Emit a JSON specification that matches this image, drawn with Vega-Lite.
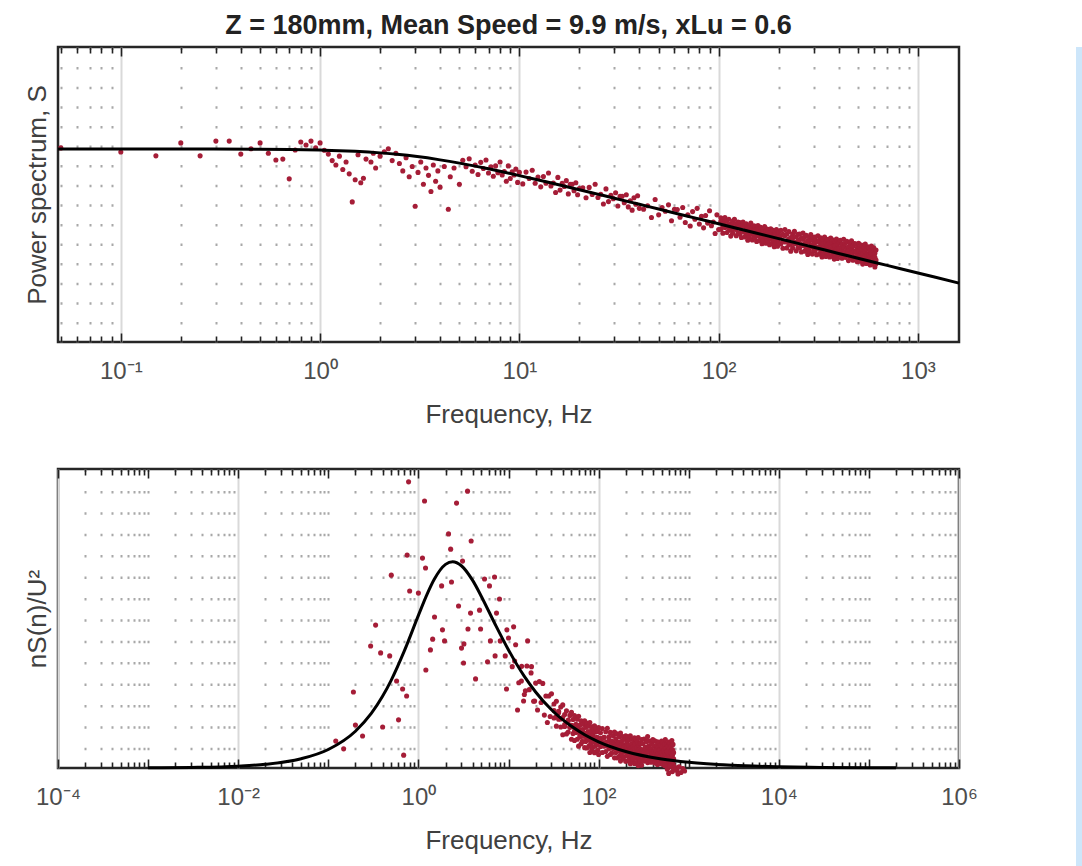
{
"$schema": "https://vega.github.io/schema/vega-lite/v6.json",
"padding": {"left": 22, "top": 10, "right": 0, "bottom": 0},
"background": "white",
"config": {
  "font": "Liberation Sans",
  "view": {"stroke": "#262626", "strokeWidth": 2.5},
  "axis": {"labelFont": "Liberation Sans", "titleFont": "Liberation Sans", "labelColor": "#4d4d4d", "titleColor": "#404040", "titleFontWeight": "normal", "domain": false}
},
"datasets": {
"top_pts": [
{"f":0.05,"S_dB":-4.2},{"f":0.1,"S_dB":-5.6},{"f":0.15,"S_dB":-6.9},{"f":0.2,"S_dB":-2.5},{"f":0.25,"S_dB":-6.9},{"f":0.3,"S_dB":-1.9},{"f":0.35,"S_dB":-1.9},{"f":0.4,"S_dB":-6.3},{"f":0.45,"S_dB":-4.5},{"f":0.5,"S_dB":-2.5},
{"f":0.55,"S_dB":-6.0},{"f":0.6,"S_dB":-8.3},{"f":0.65,"S_dB":-8.0},{"f":0.7,"S_dB":-14.7},{"f":0.75,"S_dB":-4.9},{"f":0.8,"S_dB":-2.2},{"f":0.85,"S_dB":-3.2},{"f":0.9,"S_dB":-1.9},{"f":0.95,"S_dB":-4.2},{"f":1.0,"S_dB":-2.5},
{"f":1.05,"S_dB":-5.0},{"f":1.1,"S_dB":-6.3},{"f":1.15,"S_dB":-8.5},{"f":1.2,"S_dB":-10.0},{"f":1.25,"S_dB":-7.0},{"f":1.3,"S_dB":-11.5},{"f":1.35,"S_dB":-9.0},{"f":1.4,"S_dB":-13.0},{"f":1.45,"S_dB":-22.5},{"f":1.5,"S_dB":-15.0},
{"f":1.55,"S_dB":-6.5},{"f":1.6,"S_dB":-16.0},{"f":1.65,"S_dB":-14.5},{"f":1.7,"S_dB":-8.0},{"f":1.8,"S_dB":-9.0},{"f":1.85,"S_dB":-6.0},{"f":1.9,"S_dB":-11.0},{"f":2.0,"S_dB":-7.0},{"f":2.1,"S_dB":-5.5},{"f":2.2,"S_dB":-4.5},
{"f":2.3,"S_dB":-8.5},{"f":2.4,"S_dB":-6.0},{"f":2.5,"S_dB":-9.5},{"f":2.6,"S_dB":-12.0},{"f":2.7,"S_dB":-7.5},{"f":2.8,"S_dB":-14.0},{"f":2.9,"S_dB":-10.5},{"f":3.0,"S_dB":-24.0},{"f":3.1,"S_dB":-12.5},{"f":3.2,"S_dB":-9.0},
{"f":3.3,"S_dB":-16.5},{"f":3.4,"S_dB":-11.0},{"f":3.5,"S_dB":-13.5},{"f":3.6,"S_dB":-19.0},{"f":3.7,"S_dB":-10.0},{"f":3.8,"S_dB":-15.5},{"f":3.9,"S_dB":-12.0},{"f":4.0,"S_dB":-17.5},{"f":4.2,"S_dB":-10.5},{"f":4.4,"S_dB":-25.0},
{"f":4.5,"S_dB":-14.0},{"f":4.7,"S_dB":-11.0},{"f":5.0,"S_dB":-16.5},
{"f":5.2,"S_dB":-8.4},{"f":5.4,"S_dB":-10.6},{"f":5.6,"S_dB":-7.9},{"f":5.8,"S_dB":-12.1},{"f":6.0,"S_dB":-10.0},{"f":6.2,"S_dB":-13.2},{"f":6.4,"S_dB":-9.1},{"f":6.6,"S_dB":-11.2},{"f":6.8,"S_dB":-8.3},{"f":7.0,"S_dB":-12.7},
{"f":7.2,"S_dB":-10.6},{"f":7.4,"S_dB":-13.8},{"f":7.6,"S_dB":-10.3},{"f":7.8,"S_dB":-12.6},{"f":8.0,"S_dB":-9.0},{"f":8.2,"S_dB":-13.4},{"f":8.4,"S_dB":-12.2},{"f":8.6,"S_dB":-15.5},{"f":8.8,"S_dB":-10.3},{"f":9.0,"S_dB":-14.6},
{"f":9.2,"S_dB":-12.3},{"f":9.4,"S_dB":-13.4},{"f":9.6,"S_dB":-11.4},{"f":9.8,"S_dB":-15.9},{"f":10.0,"S_dB":-12.5},
{"f":10.4,"S_dB":-16.4},{"f":10.8,"S_dB":-12.4},{"f":11.2,"S_dB":-14.6},{"f":11.6,"S_dB":-11.8},{"f":12.0,"S_dB":-16.2},{"f":12.4,"S_dB":-14.1},{"f":12.8,"S_dB":-17.4},{"f":13.2,"S_dB":-13.9},{"f":13.6,"S_dB":-16.2},{"f":14.0,"S_dB":-12.7},
{"f":14.4,"S_dB":-17.1},{"f":14.8,"S_dB":-16.1},{"f":15.2,"S_dB":-19.3},{"f":15.6,"S_dB":-14.2},{"f":16.0,"S_dB":-18.5},{"f":16.4,"S_dB":-16.2},{"f":16.8,"S_dB":-17.3},{"f":17.2,"S_dB":-15.3},{"f":17.6,"S_dB":-19.8},{"f":18.0,"S_dB":-16.5},
{"f":18.4,"S_dB":-16.5},{"f":18.8,"S_dB":-18.7},{"f":19.2,"S_dB":-16.0},{"f":19.6,"S_dB":-20.1},{"f":20.0,"S_dB":-18.0},
{"f":20.8,"S_dB":-17.7},{"f":21.6,"S_dB":-21.1},{"f":22.4,"S_dB":-17.6},{"f":23.2,"S_dB":-20.0},{"f":24.0,"S_dB":-16.5},{"f":24.8,"S_dB":-21.0},{"f":25.6,"S_dB":-19.9},{"f":26.4,"S_dB":-23.2},{"f":27.2,"S_dB":-18.1},{"f":28.0,"S_dB":-22.4},
{"f":28.8,"S_dB":-20.3},{"f":29.6,"S_dB":-21.4},{"f":30.4,"S_dB":-19.4},{"f":31.2,"S_dB":-23.9},{"f":32.0,"S_dB":-20.6},{"f":32.8,"S_dB":-20.6},{"f":33.6,"S_dB":-22.8},{"f":34.4,"S_dB":-20.1},{"f":35.2,"S_dB":-24.2},{"f":36.0,"S_dB":-22.1},
{"f":36.8,"S_dB":-25.3},{"f":37.6,"S_dB":-21.1},{"f":38.4,"S_dB":-23.3},{"f":39.2,"S_dB":-20.4},{"f":40.0,"S_dB":-24.7},
{"f":42,"S_dB":-25.0},{"f":44,"S_dB":-23.8},{"f":46,"S_dB":-27.8},{"f":48,"S_dB":-21.7},{"f":50,"S_dB":-26.9},{"f":52,"S_dB":-24.4},{"f":54,"S_dB":-25.7},{"f":56,"S_dB":-23.5},{"f":58,"S_dB":-28.9},{"f":60,"S_dB":-25.0},
{"f":62,"S_dB":-25.1},{"f":64,"S_dB":-27.7},{"f":66,"S_dB":-24.4},{"f":68,"S_dB":-29.5},{"f":70,"S_dB":-26.9},{"f":72,"S_dB":-30.7},{"f":74,"S_dB":-25.8},{"f":76,"S_dB":-28.4},{"f":78,"S_dB":-24.7},{"f":80,"S_dB":-30.0},
{"f":82,"S_dB":-27.4},{"f":84,"S_dB":-31.3},{"f":86,"S_dB":-27.1},{"f":88,"S_dB":-29.7},{"f":90,"S_dB":-25.5},{"f":92,"S_dB":-30.6},{"f":94,"S_dB":-29.3},{"f":96,"S_dB":-33.2},{"f":98,"S_dB":-26.9},{"f":100,"S_dB":-31.9},
{"f":102.5,"S_dB":-27.9},{"f":102.5,"S_dB":-29.2},{"f":102.5,"S_dB":-31.8},{"f":105,"S_dB":-29.0},{"f":105,"S_dB":-30.9},{"f":105,"S_dB":-33.1},{"f":107.5,"S_dB":-27.8},{"f":107.5,"S_dB":-29.2},{"f":107.5,"S_dB":-31.2},{"f":110,"S_dB":-28.9},{"f":110,"S_dB":-30.8},{"f":110,"S_dB":-32.9},
{"f":112.5,"S_dB":-28.4},{"f":112.5,"S_dB":-30.3},{"f":112.5,"S_dB":-32.1},{"f":115,"S_dB":-30.0},{"f":115,"S_dB":-31.9},{"f":115,"S_dB":-34.1},{"f":117.5,"S_dB":-29.1},{"f":117.5,"S_dB":-30.0},{"f":117.5,"S_dB":-33.1},{"f":120,"S_dB":-28.4},{"f":120,"S_dB":-31.3},{"f":120,"S_dB":-31.8},
{"f":122.5,"S_dB":-29.9},{"f":122.5,"S_dB":-31.8},{"f":122.5,"S_dB":-34.0},{"f":125,"S_dB":-29.3},{"f":125,"S_dB":-30.9},{"f":125,"S_dB":-33.0},{"f":127.5,"S_dB":-29.5},{"f":127.5,"S_dB":-30.8},{"f":127.5,"S_dB":-33.4},{"f":130,"S_dB":-30.5},{"f":130,"S_dB":-32.4},{"f":130,"S_dB":-34.6},
{"f":132.5,"S_dB":-29.3},{"f":132.5,"S_dB":-30.7},{"f":132.5,"S_dB":-32.7},{"f":135,"S_dB":-30.4},{"f":135,"S_dB":-32.3},{"f":135,"S_dB":-34.4},{"f":137.5,"S_dB":-29.9},{"f":137.5,"S_dB":-31.8},{"f":137.5,"S_dB":-33.6},{"f":140,"S_dB":-31.4},{"f":140,"S_dB":-33.3},{"f":140,"S_dB":-35.5},
{"f":142.5,"S_dB":-30.5},{"f":142.5,"S_dB":-31.4},{"f":142.5,"S_dB":-34.5},{"f":145,"S_dB":-29.7},{"f":145,"S_dB":-32.6},{"f":145,"S_dB":-33.1},{"f":147.5,"S_dB":-31.3},{"f":147.5,"S_dB":-33.2},{"f":147.5,"S_dB":-35.4},{"f":150,"S_dB":-30.6},{"f":150,"S_dB":-32.2},{"f":150,"S_dB":-34.3},
{"f":152.5,"S_dB":-30.8},{"f":152.5,"S_dB":-32.1},{"f":152.5,"S_dB":-34.7},{"f":155,"S_dB":-31.8},{"f":155,"S_dB":-33.7},{"f":155,"S_dB":-35.9},{"f":157.5,"S_dB":-30.5},{"f":157.5,"S_dB":-31.9},{"f":157.5,"S_dB":-33.9},{"f":160,"S_dB":-31.7},{"f":160,"S_dB":-33.6},{"f":160,"S_dB":-35.7},
{"f":162.5,"S_dB":-31.1},{"f":162.5,"S_dB":-33.0},{"f":162.5,"S_dB":-34.8},{"f":165,"S_dB":-32.6},{"f":165,"S_dB":-34.5},{"f":165,"S_dB":-36.7},{"f":167.5,"S_dB":-31.7},{"f":167.5,"S_dB":-32.6},{"f":167.5,"S_dB":-35.7},{"f":170,"S_dB":-30.9},{"f":170,"S_dB":-33.8},{"f":170,"S_dB":-34.3},
{"f":172.5,"S_dB":-32.4},{"f":172.5,"S_dB":-34.3},{"f":172.5,"S_dB":-36.5},{"f":175,"S_dB":-31.7},{"f":175,"S_dB":-33.3},{"f":175,"S_dB":-35.4},{"f":177.5,"S_dB":-31.9},{"f":177.5,"S_dB":-33.2},{"f":177.5,"S_dB":-35.8},{"f":180,"S_dB":-32.9},{"f":180,"S_dB":-34.8},{"f":180,"S_dB":-37.0},
{"f":182.5,"S_dB":-31.6},{"f":182.5,"S_dB":-33.0},{"f":182.5,"S_dB":-35.0},{"f":185,"S_dB":-32.7},{"f":185,"S_dB":-34.6},{"f":185,"S_dB":-36.7},{"f":187.5,"S_dB":-32.1},{"f":187.5,"S_dB":-34.0},{"f":187.5,"S_dB":-35.8},{"f":190,"S_dB":-33.6},{"f":190,"S_dB":-35.5},{"f":190,"S_dB":-37.7},
{"f":192.5,"S_dB":-32.7},{"f":192.5,"S_dB":-33.6},{"f":192.5,"S_dB":-36.7},{"f":195,"S_dB":-31.9},{"f":195,"S_dB":-34.8},{"f":195,"S_dB":-35.3},{"f":197.5,"S_dB":-33.4},{"f":197.5,"S_dB":-35.3},{"f":197.5,"S_dB":-37.5},{"f":200,"S_dB":-32.7},{"f":200,"S_dB":-34.3},{"f":200,"S_dB":-36.4},
{"f":205,"S_dB":-32.1},{"f":205,"S_dB":-34.0},{"f":205,"S_dB":-36.8},{"f":210,"S_dB":-33.5},{"f":210,"S_dB":-35.7},{"f":210,"S_dB":-38.2},{"f":215,"S_dB":-31.9},{"f":215,"S_dB":-34.0},{"f":215,"S_dB":-36.1},{"f":220,"S_dB":-33.4},{"f":220,"S_dB":-35.7},{"f":220,"S_dB":-38.1},
{"f":225,"S_dB":-32.6},{"f":225,"S_dB":-35.1},{"f":225,"S_dB":-37.0},{"f":230,"S_dB":-34.6},{"f":230,"S_dB":-36.7},{"f":230,"S_dB":-39.2},{"f":235,"S_dB":-33.4},{"f":235,"S_dB":-34.8},{"f":235,"S_dB":-38.1},{"f":240,"S_dB":-32.5},{"f":240,"S_dB":-36.1},{"f":240,"S_dB":-36.6},
{"f":245,"S_dB":-34.3},{"f":245,"S_dB":-36.6},{"f":245,"S_dB":-39.1},{"f":250,"S_dB":-33.5},{"f":250,"S_dB":-35.7},{"f":250,"S_dB":-38.0},{"f":255,"S_dB":-33.4},{"f":255,"S_dB":-35.3},{"f":255,"S_dB":-38.1},{"f":260,"S_dB":-34.8},{"f":260,"S_dB":-37.0},{"f":260,"S_dB":-39.5},
{"f":265,"S_dB":-33.1},{"f":265,"S_dB":-35.2},{"f":265,"S_dB":-37.3},{"f":270,"S_dB":-34.5},{"f":270,"S_dB":-36.8},{"f":270,"S_dB":-39.2},{"f":275,"S_dB":-33.8},{"f":275,"S_dB":-36.3},{"f":275,"S_dB":-38.2},{"f":280,"S_dB":-35.7},{"f":280,"S_dB":-37.8},{"f":280,"S_dB":-40.3},
{"f":285,"S_dB":-34.5},{"f":285,"S_dB":-35.9},{"f":285,"S_dB":-39.2},{"f":290,"S_dB":-33.6},{"f":290,"S_dB":-37.2},{"f":290,"S_dB":-37.7},{"f":295,"S_dB":-35.4},{"f":295,"S_dB":-37.7},{"f":295,"S_dB":-40.2},{"f":300,"S_dB":-34.5},{"f":300,"S_dB":-36.7},{"f":300,"S_dB":-39.0},
{"f":305,"S_dB":-34.4},{"f":305,"S_dB":-36.3},{"f":305,"S_dB":-39.1},{"f":310,"S_dB":-35.7},{"f":310,"S_dB":-37.9},{"f":310,"S_dB":-40.4},{"f":315,"S_dB":-34.0},{"f":315,"S_dB":-36.1},{"f":315,"S_dB":-38.2},{"f":320,"S_dB":-35.5},{"f":320,"S_dB":-37.8},{"f":320,"S_dB":-40.2},
{"f":325,"S_dB":-34.7},{"f":325,"S_dB":-37.2},{"f":325,"S_dB":-39.1},{"f":330,"S_dB":-36.6},{"f":330,"S_dB":-38.7},{"f":330,"S_dB":-41.2},{"f":335,"S_dB":-35.4},{"f":335,"S_dB":-36.8},{"f":335,"S_dB":-40.1},{"f":340,"S_dB":-34.4},{"f":340,"S_dB":-38.0},{"f":340,"S_dB":-38.5},
{"f":345,"S_dB":-36.2},{"f":345,"S_dB":-38.5},{"f":345,"S_dB":-41.0},{"f":350,"S_dB":-35.3},{"f":350,"S_dB":-37.5},{"f":350,"S_dB":-39.8},{"f":355,"S_dB":-35.2},{"f":355,"S_dB":-37.1},{"f":355,"S_dB":-39.9},{"f":360,"S_dB":-36.5},{"f":360,"S_dB":-38.7},{"f":360,"S_dB":-41.2},
{"f":365,"S_dB":-34.8},{"f":365,"S_dB":-36.9},{"f":365,"S_dB":-39.0},{"f":370,"S_dB":-36.2},{"f":370,"S_dB":-38.5},{"f":370,"S_dB":-40.9},{"f":375,"S_dB":-35.4},{"f":375,"S_dB":-37.9},{"f":375,"S_dB":-39.8},{"f":380,"S_dB":-37.3},{"f":380,"S_dB":-39.4},{"f":380,"S_dB":-41.9},
{"f":385,"S_dB":-36.1},{"f":385,"S_dB":-37.5},{"f":385,"S_dB":-40.8},{"f":390,"S_dB":-35.1},{"f":390,"S_dB":-38.7},{"f":390,"S_dB":-39.2},{"f":395,"S_dB":-36.9},{"f":395,"S_dB":-39.2},{"f":395,"S_dB":-41.7},{"f":400,"S_dB":-36.0},{"f":400,"S_dB":-38.2},{"f":400,"S_dB":-40.5},
{"f":408,"S_dB":-35.5},{"f":408,"S_dB":-38.1},{"f":408,"S_dB":-40.2},{"f":416,"S_dB":-36.9},{"f":416,"S_dB":-38.9},{"f":416,"S_dB":-41.6},{"f":424,"S_dB":-35.2},{"f":424,"S_dB":-37.8},{"f":424,"S_dB":-39.4},
{"f":432,"S_dB":-36.6},{"f":432,"S_dB":-39.4},{"f":432,"S_dB":-41.3},{"f":440,"S_dB":-35.9},{"f":440,"S_dB":-38.4},{"f":440,"S_dB":-40.3},{"f":448,"S_dB":-37.8},{"f":448,"S_dB":-39.1},{"f":448,"S_dB":-42.4},
{"f":456,"S_dB":-36.6},{"f":456,"S_dB":-40.0},{"f":456,"S_dB":-41.3},{"f":464,"S_dB":-35.7},{"f":464,"S_dB":-38.3},{"f":464,"S_dB":-39.8},{"f":472,"S_dB":-37.5},{"f":472,"S_dB":-39.7},{"f":472,"S_dB":-42.3},
{"f":480,"S_dB":-36.6},{"f":480,"S_dB":-39.2},{"f":480,"S_dB":-41.1},{"f":488,"S_dB":-36.8},{"f":488,"S_dB":-39.4},{"f":488,"S_dB":-41.5},{"f":496,"S_dB":-38.1},{"f":496,"S_dB":-40.1},{"f":496,"S_dB":-42.8},
{"f":504,"S_dB":-36.5},{"f":504,"S_dB":-39.1},{"f":504,"S_dB":-40.7},{"f":512,"S_dB":-37.9},{"f":512,"S_dB":-40.7},{"f":512,"S_dB":-42.6},{"f":520,"S_dB":-37.1},{"f":520,"S_dB":-39.6},{"f":520,"S_dB":-41.5},
{"f":528,"S_dB":-39.0},{"f":528,"S_dB":-40.3},{"f":528,"S_dB":-43.6},{"f":536,"S_dB":-37.8},{"f":536,"S_dB":-41.2},{"f":536,"S_dB":-42.5},{"f":544,"S_dB":-36.8},{"f":544,"S_dB":-39.4},{"f":544,"S_dB":-40.9},
{"f":552,"S_dB":-38.6},{"f":552,"S_dB":-40.8},{"f":552,"S_dB":-43.4},{"f":560,"S_dB":-37.7},{"f":560,"S_dB":-40.3},{"f":560,"S_dB":-42.2},{"f":568,"S_dB":-37.9},{"f":568,"S_dB":-40.5},{"f":568,"S_dB":-42.6},
{"f":576,"S_dB":-39.2},{"f":576,"S_dB":-41.2},{"f":576,"S_dB":-43.9},{"f":584,"S_dB":-37.5},{"f":584,"S_dB":-40.1},{"f":584,"S_dB":-41.7},{"f":592,"S_dB":-38.9},{"f":592,"S_dB":-41.7},{"f":592,"S_dB":-43.6},
{"f":600,"S_dB":-38.1},{"f":600,"S_dB":-40.6},{"f":600,"S_dB":-42.5},{"f":608,"S_dB":-40.0},{"f":608,"S_dB":-41.3},{"f":608,"S_dB":-44.6},{"f":616,"S_dB":-38.8},{"f":616,"S_dB":-42.2},{"f":616,"S_dB":-43.5}
],
"top_fit": [
{"f":0.0484,"S_dB":-4.56},{"f":0.1,"S_dB":-4.56},{"f":0.2,"S_dB":-4.57},{"f":0.5,"S_dB":-4.66},{"f":0.7,"S_dB":-4.75},{"f":1,"S_dB":-4.94},{"f":1.25,"S_dB":-5.14},{"f":1.5,"S_dB":-5.37},{"f":2,"S_dB":-5.89},{"f":2.5,"S_dB":-6.47},
{"f":3,"S_dB":-7.07},{"f":4,"S_dB":-8.26},{"f":5,"S_dB":-9.37},{"f":6,"S_dB":-10.39},{"f":7,"S_dB":-11.30},{"f":8,"S_dB":-12.14},{"f":10,"S_dB":-13.59},{"f":12,"S_dB":-14.81},{"f":15,"S_dB":-16.35},{"f":20,"S_dB":-18.37},
{"f":25,"S_dB":-19.96},{"f":30,"S_dB":-21.26},{"f":40,"S_dB":-23.33},{"f":50,"S_dB":-24.94},{"f":60,"S_dB":-26.25},{"f":70,"S_dB":-27.37},{"f":80,"S_dB":-28.33},{"f":100,"S_dB":-29.94},{"f":120,"S_dB":-31.26},{"f":150,"S_dB":-32.88},
{"f":200,"S_dB":-34.96},{"f":250,"S_dB":-36.57},{"f":300,"S_dB":-37.89},{"f":400,"S_dB":-39.98},{"f":500,"S_dB":-41.59},{"f":700,"S_dB":-44.03},{"f":1000,"S_dB":-46.61},{"f":1607,"S_dB":-50.04}
],
"bot_pts": [
{"f":0.121,"nSU2":0.09},{"f":0.148,"nSU2":0.064},{"f":0.19,"nSU2":0.254},{"f":0.2,"nSU2":0.144},{"f":0.24,"nSU2":0.107},{"f":0.295,"nSU2":0.408},{"f":0.335,"nSU2":0.478},{"f":0.381,"nSU2":0.385},{"f":0.401,"nSU2":0.137},{"f":0.48,"nSU2":0.375},
{"f":0.5,"nSU2":0.645},{"f":0.573,"nSU2":0.291},{"f":0.602,"nSU2":0.161},{"f":0.668,"nSU2":0.264},{"f":0.686,"nSU2":0.043},{"f":0.74,"nSU2":0.241},{"f":0.75,"nSU2":0.712},{"f":0.778,"nSU2":0.957},{"f":0.8,"nSU2":0.592},{"f":1.0,"nSU2":0.585},
{"f":1.11,"nSU2":0.702},{"f":1.17,"nSU2":0.893},{"f":1.2,"nSU2":0.669},{"f":1.21,"nSU2":0.328},{"f":1.36,"nSU2":0.395},{"f":1.44,"nSU2":0.431},{"f":1.51,"nSU2":0.505},{"f":1.81,"nSU2":0.609},{"f":1.85,"nSU2":0.462},{"f":1.95,"nSU2":0.425},
{"f":2.16,"nSU2":0.783},{"f":2.28,"nSU2":0.732},{"f":2.33,"nSU2":0.622},{"f":2.65,"nSU2":0.886},{"f":2.79,"nSU2":0.542},{"f":3.01,"nSU2":0.401},{"f":3.09,"nSU2":0.692},{"f":3.17,"nSU2":0.351},{"f":3.2,"nSU2":0.415},{"f":3.51,"nSU2":0.926},
{"f":3.55,"nSU2":0.465},{"f":3.79,"nSU2":0.518},{"f":3.85,"nSU2":0.759},{"f":4.31,"nSU2":0.298},{"f":4.77,"nSU2":0.528},{"f":4.9,"nSU2":0.465},{"f":5.42,"nSU2":0.632},{"f":5.85,"nSU2":0.355},{"f":6.15,"nSU2":0.609},{"f":6.3,"nSU2":0.425},
{"f":7.0,"nSU2":0.639},{"f":7.1,"nSU2":0.375},{"f":7.36,"nSU2":0.518},{"f":7.94,"nSU2":0.565},{"f":8.1,"nSU2":0.425},{"f":9.2,"nSU2":0.375},{"f":9.5,"nSU2":0.264},{"f":9.6,"nSU2":0.462},{"f":11.4,"nSU2":0.472},{"f":11.7,"nSU2":0.358},
{"f":12.6,"nSU2":0.194},{"f":13.9,"nSU2":0.291},{"f":14.7,"nSU2":0.224},{"f":15.4,"nSU2":0.258},{"f":16.3,"nSU2":0.425},{"f":17.8,"nSU2":0.318},{"f":19.5,"nSU2":0.224},
{"f":10,"nSU2":0.435},{"f":11,"nSU2":0.339},{"f":12,"nSU2":0.412},{"f":13,"nSU2":0.285},{"f":14,"nSU2":0.340},{"f":15,"nSU2":0.246},{"f":16,"nSU2":0.341},{"f":17,"nSU2":0.262},{"f":18,"nSU2":0.339},{"f":19,"nSU2":0.223},
{"f":20,"nSU2":0.284},{"f":21,"nSU2":0.194},{"f":22,"nSU2":0.289},{"f":23,"nSU2":0.219},{"f":24,"nSU2":0.283},{"f":25,"nSU2":0.177},{"f":26,"nSU2":0.241},{"f":27,"nSU2":0.152},{"f":28,"nSU2":0.241},{"f":29,"nSU2":0.172},{"f":30,"nSU2":0.248},
{"f":32,"nSU2":0.214},{"f":32,"nSU2":0.192},{"f":32,"nSU2":0.167},{"f":34,"nSU2":0.223},{"f":34,"nSU2":0.172},{"f":34,"nSU2":0.140},{"f":36,"nSU2":0.190},{"f":36,"nSU2":0.185},{"f":36,"nSU2":0.163},{"f":38,"nSU2":0.204},{"f":38,"nSU2":0.164},{"f":38,"nSU2":0.137},
{"f":40,"nSU2":0.211},{"f":40,"nSU2":0.169},{"f":40,"nSU2":0.111},{"f":42,"nSU2":0.179},{"f":42,"nSU2":0.145},{"f":42,"nSU2":0.139},{"f":44,"nSU2":0.191},{"f":44,"nSU2":0.153},{"f":44,"nSU2":0.114},{"f":46,"nSU2":0.160},{"f":46,"nSU2":0.157},{"f":46,"nSU2":0.120},
{"f":48,"nSU2":0.176},{"f":48,"nSU2":0.137},{"f":48,"nSU2":0.136},{"f":50,"nSU2":0.186},{"f":50,"nSU2":0.143},{"f":50,"nSU2":0.096},{"f":52,"nSU2":0.162},{"f":52,"nSU2":0.140},{"f":52,"nSU2":0.115},{"f":54,"nSU2":0.175},{"f":54,"nSU2":0.124},{"f":54,"nSU2":0.092},
{"f":56,"nSU2":0.146},{"f":56,"nSU2":0.141},{"f":56,"nSU2":0.119},{"f":58,"nSU2":0.163},{"f":58,"nSU2":0.123},{"f":58,"nSU2":0.096},{"f":60,"nSU2":0.173},{"f":60,"nSU2":0.131},{"f":60,"nSU2":0.073},{"f":62,"nSU2":0.144},{"f":62,"nSU2":0.110},{"f":62,"nSU2":0.104},
{"f":64,"nSU2":0.158},{"f":64,"nSU2":0.120},{"f":64,"nSU2":0.081},{"f":66,"nSU2":0.129},{"f":66,"nSU2":0.126},{"f":66,"nSU2":0.089},{"f":68,"nSU2":0.146},{"f":68,"nSU2":0.107},{"f":68,"nSU2":0.106},{"f":70,"nSU2":0.158},{"f":70,"nSU2":0.115},{"f":70,"nSU2":0.068},
{"f":72,"nSU2":0.136},{"f":72,"nSU2":0.114},{"f":72,"nSU2":0.089},{"f":74,"nSU2":0.150},{"f":74,"nSU2":0.099},{"f":74,"nSU2":0.067},{"f":76,"nSU2":0.122},{"f":76,"nSU2":0.117},{"f":76,"nSU2":0.095},{"f":78,"nSU2":0.140},{"f":78,"nSU2":0.100},{"f":78,"nSU2":0.073},
{"f":80,"nSU2":0.152},{"f":80,"nSU2":0.110},{"f":80,"nSU2":0.052},{"f":82,"nSU2":0.123},{"f":82,"nSU2":0.089},{"f":82,"nSU2":0.083},{"f":84,"nSU2":0.138},{"f":84,"nSU2":0.100},{"f":84,"nSU2":0.061},{"f":86,"nSU2":0.110},{"f":86,"nSU2":0.107},{"f":86,"nSU2":0.070},
{"f":88,"nSU2":0.128},{"f":88,"nSU2":0.089},{"f":88,"nSU2":0.088},{"f":90,"nSU2":0.141},{"f":90,"nSU2":0.098},{"f":90,"nSU2":0.051},{"f":92,"nSU2":0.120},{"f":92,"nSU2":0.098},{"f":92,"nSU2":0.073},{"f":94,"nSU2":0.134},{"f":94,"nSU2":0.083},{"f":94,"nSU2":0.054},
{"f":96,"nSU2":0.103},{"f":96,"nSU2":0.102},{"f":96,"nSU2":0.080},{"f":98,"nSU2":0.122},{"f":98,"nSU2":0.086},{"f":98,"nSU2":0.059},{"f":100,"nSU2":0.135},{"f":100,"nSU2":0.092},{"f":100,"nSU2":0.045},
{"f":105,"nSU2":0.118},{"f":105,"nSU2":0.099},{"f":105,"nSU2":0.072},{"f":110,"nSU2":0.132},{"f":110,"nSU2":0.086},{"f":110,"nSU2":0.052},{"f":115,"nSU2":0.103},{"f":115,"nSU2":0.102},{"f":115,"nSU2":0.073},{"f":120,"nSU2":0.121},{"f":120,"nSU2":0.086},{"f":120,"nSU2":0.055},
{"f":125,"nSU2":0.133},{"f":125,"nSU2":0.074},{"f":125,"nSU2":0.039},{"f":130,"nSU2":0.104},{"f":130,"nSU2":0.092},{"f":130,"nSU2":0.064},{"f":135,"nSU2":0.119},{"f":135,"nSU2":0.078},{"f":135,"nSU2":0.045},{"f":140,"nSU2":0.090},{"f":140,"nSU2":0.082},{"f":140,"nSU2":0.050},
{"f":145,"nSU2":0.108},{"f":145,"nSU2":0.069},{"f":145,"nSU2":0.065},{"f":150,"nSU2":0.120},{"f":150,"nSU2":0.083},{"f":150,"nSU2":0.034},{"f":155,"nSU2":0.098},{"f":155,"nSU2":0.079},{"f":155,"nSU2":0.052},{"f":160,"nSU2":0.114},{"f":160,"nSU2":0.068},{"f":160,"nSU2":0.034},
{"f":165,"nSU2":0.086},{"f":165,"nSU2":0.085},{"f":165,"nSU2":0.056},{"f":170,"nSU2":0.104},{"f":170,"nSU2":0.070},{"f":170,"nSU2":0.039},{"f":175,"nSU2":0.117},{"f":175,"nSU2":0.058},{"f":175,"nSU2":0.023},{"f":180,"nSU2":0.089},{"f":180,"nSU2":0.077},{"f":180,"nSU2":0.049},
{"f":185,"nSU2":0.105},{"f":185,"nSU2":0.064},{"f":185,"nSU2":0.031},{"f":190,"nSU2":0.077},{"f":190,"nSU2":0.069},{"f":190,"nSU2":0.037},{"f":195,"nSU2":0.096},{"f":195,"nSU2":0.057},{"f":195,"nSU2":0.053},{"f":200,"nSU2":0.108},{"f":200,"nSU2":0.071},{"f":200,"nSU2":0.022},
{"f":205,"nSU2":0.087},{"f":205,"nSU2":0.068},{"f":205,"nSU2":0.041},{"f":210,"nSU2":0.104},{"f":210,"nSU2":0.057},{"f":210,"nSU2":0.024},{"f":215,"nSU2":0.076},{"f":215,"nSU2":0.075},{"f":215,"nSU2":0.046},{"f":220,"nSU2":0.095},{"f":220,"nSU2":0.060},{"f":220,"nSU2":0.029},
{"f":225,"nSU2":0.108},{"f":225,"nSU2":0.049},{"f":225,"nSU2":0.014},{"f":230,"nSU2":0.080},{"f":230,"nSU2":0.068},{"f":230,"nSU2":0.040},{"f":235,"nSU2":0.097},{"f":235,"nSU2":0.056},{"f":235,"nSU2":0.023},{"f":240,"nSU2":0.069},{"f":240,"nSU2":0.061},{"f":240,"nSU2":0.029},
{"f":245,"nSU2":0.088},{"f":245,"nSU2":0.049},{"f":245,"nSU2":0.045},{"f":250,"nSU2":0.101},{"f":250,"nSU2":0.064},{"f":250,"nSU2":0.015},{"f":255,"nSU2":0.080},{"f":255,"nSU2":0.061},{"f":255,"nSU2":0.034},{"f":260,"nSU2":0.096},{"f":260,"nSU2":0.050},{"f":260,"nSU2":0.016},
{"f":265,"nSU2":0.069},{"f":265,"nSU2":0.068},{"f":265,"nSU2":0.039},{"f":270,"nSU2":0.088},{"f":270,"nSU2":0.053},{"f":270,"nSU2":0.022},{"f":275,"nSU2":0.102},{"f":275,"nSU2":0.043},{"f":275,"nSU2":0.008},{"f":280,"nSU2":0.074},{"f":280,"nSU2":0.062},{"f":280,"nSU2":0.034},
{"f":285,"nSU2":0.083},{"f":285,"nSU2":0.050},{"f":285,"nSU2":0.017},{"f":290,"nSU2":0.063},{"f":290,"nSU2":0.055},{"f":290,"nSU2":0.023},{"f":295,"nSU2":0.083},{"f":295,"nSU2":0.044},{"f":295,"nSU2":0.040},{"f":300,"nSU2":0.095},{"f":300,"nSU2":0.058},{"f":300,"nSU2":0.009},
{"f":310,"nSU2":0.081},{"f":310,"nSU2":0.061},{"f":310,"nSU2":0.034},{"f":320,"nSU2":0.097},{"f":320,"nSU2":0.053},{"f":320,"nSU2":0.023},{"f":330,"nSU2":0.070},{"f":330,"nSU2":0.067},{"f":330,"nSU2":0.040},
{"f":340,"nSU2":0.089},{"f":340,"nSU2":0.049},{"f":340,"nSU2":0.026},{"f":350,"nSU2":0.105},{"f":350,"nSU2":0.061},{"f":350,"nSU2":0.018},{"f":360,"nSU2":0.074},{"f":360,"nSU2":0.054},{"f":360,"nSU2":0.034},
{"f":370,"nSU2":0.090},{"f":370,"nSU2":0.067},{"f":370,"nSU2":0.027},{"f":380,"nSU2":0.063},{"f":380,"nSU2":0.043},{"f":380,"nSU2":0.019},{"f":390,"nSU2":0.082},{"f":390,"nSU2":0.055},{"f":390,"nSU2":0.038},
{"f":400,"nSU2":0.095},{"f":400,"nSU2":0.048},{"f":400,"nSU2":0.022},{"f":410,"nSU2":0.074},{"f":410,"nSU2":0.054},{"f":410,"nSU2":0.027},{"f":420,"nSU2":0.091},{"f":420,"nSU2":0.047},{"f":420,"nSU2":0.017},
{"f":430,"nSU2":0.063},{"f":430,"nSU2":0.060},{"f":430,"nSU2":0.033},{"f":440,"nSU2":0.076},{"f":440,"nSU2":0.036},{"f":440,"nSU2":0.019},{"f":450,"nSU2":0.088},{"f":450,"nSU2":0.044},{"f":450,"nSU2":0.012},
{"f":460,"nSU2":0.069},{"f":460,"nSU2":0.049},{"f":460,"nSU2":0.029},{"f":470,"nSU2":0.085},{"f":470,"nSU2":0.061},{"f":470,"nSU2":0.022},{"f":480,"nSU2":0.058},{"f":480,"nSU2":0.038},{"f":480,"nSU2":0.014},
{"f":490,"nSU2":0.077},{"f":490,"nSU2":0.050},{"f":490,"nSU2":0.033},{"f":500,"nSU2":0.090},{"f":500,"nSU2":0.043},{"f":500,"nSU2":0.017},{"f":510,"nSU2":0.070},{"f":510,"nSU2":0.050},{"f":510,"nSU2":0.022},
{"f":520,"nSU2":0.086},{"f":520,"nSU2":0.042},{"f":520,"nSU2":0.012},{"f":530,"nSU2":0.059},{"f":530,"nSU2":0.056},{"f":530,"nSU2":0.029},{"f":540,"nSU2":0.079},{"f":540,"nSU2":0.039},{"f":540,"nSU2":0.016},
{"f":550,"nSU2":0.095},{"f":550,"nSU2":0.051},{"f":550,"nSU2":0.008},{"f":560,"nSU2":0.065},{"f":560,"nSU2":0.045},{"f":560,"nSU2":0.025},{"f":570,"nSU2":0.080},{"f":570,"nSU2":0.057},{"f":570,"nSU2":0.017},
{"f":580,"nSU2":0.054},{"f":580,"nSU2":0.034},{"f":580,"nSU2":0.010},{"f":590,"nSU2":0.074},{"f":590,"nSU2":0.047},{"f":590,"nSU2":0.030},{"f":600,"nSU2":0.087},{"f":600,"nSU2":0.040},{"f":600,"nSU2":0.013},
{"f":610,"nSU2":0.066},{"f":610,"nSU2":0.046},{"f":610,"nSU2":0.022},{"f":620,"nSU2":0.083},{"f":620,"nSU2":0.039},{"f":620,"nSU2":0.009},{"f":630,"nSU2":0.056},{"f":630,"nSU2":0.053},{"f":630,"nSU2":0.026},
{"f":640,"nSU2":0.075},{"f":640,"nSU2":0.035},{"f":640,"nSU2":0.013},{"f":650,"nSU2":0.092},{"f":650,"nSU2":0.048},{"f":650,"nSU2":0.005},{"f":660,"nSU2":0.062},{"f":660,"nSU2":0.042},{"f":660,"nSU2":0.022},
{"f":670,"nSU2":0.079},{"f":670,"nSU2":0.055},{"f":670,"nSU2":0.015},{"f":680,"nSU2":0.051},{"f":680,"nSU2":0.031},{"f":680,"nSU2":0.008},
{"f":540,"nSU2":0.008},{"f":580,"nSU2":-0.004},{"f":620,"nSU2":0.006},{"f":660,"nSU2":-0.012},{"f":700,"nSU2":0.002},{"f":740,"nSU2":-0.008},{"f":780,"nSU2":0.004},{"f":820,"nSU2":-0.015},{"f":860,"nSU2":-0.002},{"f":900,"nSU2":-0.01},
{"f":600,"nSU2":-0.018},{"f":680,"nSU2":-0.006},{"f":760,"nSU2":-0.02}
],
"bot_fit": [
{"f":0.001,"nSU2":0.0006},{"f":0.003,"nSU2":0.0019},{"f":0.01,"nSU2":0.0062},{"f":0.02,"nSU2":0.0124},{"f":0.05,"nSU2":0.031},{"f":0.1,"nSU2":0.0619},{"f":0.2,"nSU2":0.123},{"f":0.3,"nSU2":0.1824},{"f":0.4,"nSU2":0.2396},{"f":0.5,"nSU2":0.294},
{"f":0.7,"nSU2":0.3924},{"f":1,"nSU2":0.5104},{"f":1.25,"nSU2":0.5816},{"f":1.5,"nSU2":0.6312},{"f":2,"nSU2":0.6809},{"f":2.4,"nSU2":0.6901},{"f":3,"nSU2":0.6765},{"f":4,"nSU2":0.6274},{"f":5,"nSU2":0.5738},{"f":7,"nSU2":0.4848},
{"f":10,"nSU2":0.3949},{"f":15,"nSU2":0.3062},{"f":20,"nSU2":0.2543},{"f":30,"nSU2":0.1947},{"f":50,"nSU2":0.1394},{"f":70,"nSU2":0.1113},{"f":100,"nSU2":0.0877},{"f":200,"nSU2":0.0553},{"f":500,"nSU2":0.030},{"f":1000,"nSU2":0.0189},
{"f":3000,"nSU2":0.0091},{"f":10000,"nSU2":0.0041},{"f":30000,"nSU2":0.0020},{"f":100000,"nSU2":0.0009},{"f":200000,"nSU2":0.0006}
]
},
"hconcat": [
{
"vconcat": [
{
"width": 901, "height": 295,
"title": {"text": "Z = 180mm, Mean Speed = 9.9 m/s, xLu = 0.6", "fontSize": 27, "fontWeight": "bold", "color": "#222222", "anchor": "middle", "frame": "group", "offset": 6, "font": "Liberation Sans"},
"layer": [
{
"data": {"name": "top_pts"},
"mark": {"type": "circle", "size": 26, "color": "#a51d37", "opacity": 1},
"encoding": {
"x": {"field": "f", "type": "quantitative", "scale": {"type": "log", "domain": [0.0484, 1607], "nice": false},
"axis": {"orient": "bottom", "title": "Frequency, Hz", "titleFontSize": 26, "titlePadding": 15,
"values": [0.05,0.06,0.07,0.08,0.09,0.1,0.2,0.3,0.4,0.5,0.6,0.7,0.8,0.9,1,2,3,4,5,6,7,8,9,10,20,30,40,50,60,70,80,90,100,200,300,400,500,600,700,800,900,1000],
"labelExpr": "datum.value == 0.1 ? '10⁻¹' : datum.value == 1 ? '10⁰' : datum.value == 10 ? '10¹' : datum.value == 100 ? '10²' : datum.value == 1000 ? '10³' : ''",
"labelFontSize": 24, "labelPadding": 26, "labelOverlap": false, "labelFlush": false, "labelBound": false,
"grid": true,
"gridColor": {"condition": {"test": "abs(log(datum.value)/LN10 - round(log(datum.value)/LN10)) < 0.001", "value": "#d9d9d9"}, "value": "#a8a8a8"},
"gridDash": {"condition": {"test": "abs(log(datum.value)/LN10 - round(log(datum.value)/LN10)) < 0.001", "value": []}, "value": [2.5, 17.1]},
"gridWidth": 2,
"ticks": true, "tickColor": "#222222", "tickWidth": 1.6,
"tickSize": {"condition": {"test": "abs(log(datum.value)/LN10 - round(log(datum.value)/LN10)) < 0.001", "value": -9}, "value": -6},
"domain": false}},
"y": {"field": "S_dB", "type": "quantitative", "scale": {"domain": [-70, 30], "nice": false, "zero": false},
"axis": {"title": "Power spectrum, S", "labels": false, "ticks": false, "grid": false, "domain": false, "titleFontSize": 26, "titlePadding": 8}}
}
},
{
"data": {"name": "top_fit"},
"mark": {"type": "line", "color": "#000000", "strokeWidth": 3, "interpolate": "monotone"},
"encoding": {
"x": {"field": "f", "type": "quantitative",
"axis": {"orient": "top", "title": null, "labels": false, "grid": false, "domain": false,
"values": [0.05,0.06,0.07,0.08,0.09,0.1,0.2,0.3,0.4,0.5,0.6,0.7,0.8,0.9,1,2,3,4,5,6,7,8,9,10,20,30,40,50,60,70,80,90,100,200,300,400,500,600,700,800,900,1000],
"ticks": true, "tickColor": "#222222", "tickWidth": 1.6,
"tickSize": {"condition": {"test": "abs(log(datum.value)/LN10 - round(log(datum.value)/LN10)) < 0.001", "value": -9}, "value": -6}}},
"y": {"field": "S_dB", "type": "quantitative"}
}
}
],
"resolve": {"axis": {"x": "independent"}}
},
{
"width": 901, "height": 299,
"layer": [
{
"data": {"name": "bot_pts"},
"mark": {"type": "circle", "size": 26, "color": "#a51d37", "opacity": 1},
"encoding": {
"x": {"field": "f", "type": "quantitative", "scale": {"type": "log", "domain": [0.0001, 1000000], "nice": false},
"axis": {"orient": "bottom", "title": "Frequency, Hz", "titleFontSize": 26, "titlePadding": 15,
"values": [0.0001,0.0002,0.0003,0.0004,0.0005,0.0006,0.0007,0.0008,0.0009,0.001,0.002,0.003,0.004,0.005,0.006,0.007,0.008,0.009,0.01,0.02,0.03,0.04,0.05,0.06,0.07,0.08,0.09,0.1,0.2,0.3,0.4,0.5,0.6,0.7,0.8,0.9,1,2,3,4,5,6,7,8,9,10,20,30,40,50,60,70,80,90,100,200,300,400,500,600,700,800,900,1000,2000,3000,4000,5000,6000,7000,8000,9000,10000,20000,30000,40000,50000,60000,70000,80000,90000,100000,200000,300000,400000,500000,600000,700000,800000,900000,1000000],
"labelExpr": "datum.value == 0.0001 ? '10⁻⁴' : datum.value == 0.01 ? '10⁻²' : datum.value == 1 ? '10⁰' : datum.value == 100 ? '10²' : datum.value == 10000 ? '10⁴' : datum.value == 1000000 ? '10⁶' : ''",
"labelFontSize": 24, "labelPadding": 26, "labelOverlap": false, "labelFlush": false, "labelBound": false,
"grid": true,
"gridColor": {"condition": {"test": "abs(log(datum.value)/LN10 - round(log(datum.value)/LN10)) < 0.001 && round(log(datum.value)/LN10) % 2 == 0", "value": "#d9d9d9"}, "value": "#a8a8a8"},
"gridDash": {"condition": {"test": "abs(log(datum.value)/LN10 - round(log(datum.value)/LN10)) < 0.001 && round(log(datum.value)/LN10) % 2 == 0", "value": []}, "value": [2.5, 18.9]},
"gridWidth": 2,
"ticks": true, "tickColor": "#222222", "tickWidth": 1.6,
"tickSize": {"condition": {"test": "abs(log(datum.value)/LN10 - round(log(datum.value)/LN10)) < 0.001", "value": -9}, "value": -6},
"domain": false}},
"y": {"field": "nSU2", "type": "quantitative", "scale": {"domain": [0, 1], "nice": false},
"axis": {"title": "nS(n)/U²", "labels": false, "ticks": false, "grid": false, "domain": false, "titleFontSize": 26, "titlePadding": 8}}
}
},
{
"data": {"name": "bot_fit"},
"mark": {"type": "line", "color": "#000000", "strokeWidth": 3, "interpolate": "monotone"},
"encoding": {
"x": {"field": "f", "type": "quantitative",
"axis": {"orient": "top", "title": null, "labels": false, "grid": false, "domain": false,
"values": [0.0001,0.0002,0.0003,0.0004,0.0005,0.0006,0.0007,0.0008,0.0009,0.001,0.002,0.003,0.004,0.005,0.006,0.007,0.008,0.009,0.01,0.02,0.03,0.04,0.05,0.06,0.07,0.08,0.09,0.1,0.2,0.3,0.4,0.5,0.6,0.7,0.8,0.9,1,2,3,4,5,6,7,8,9,10,20,30,40,50,60,70,80,90,100,200,300,400,500,600,700,800,900,1000,2000,3000,4000,5000,6000,7000,8000,9000,10000,20000,30000,40000,50000,60000,70000,80000,90000,100000,200000,300000,400000,500000,600000,700000,800000,900000,1000000],
"ticks": true, "tickColor": "#222222", "tickWidth": 1.6,
"tickSize": {"condition": {"test": "abs(log(datum.value)/LN10 - round(log(datum.value)/LN10)) < 0.001", "value": -9}, "value": -6}}},
"y": {"field": "nSU2", "type": "quantitative"}
}
}
],
"resolve": {"axis": {"x": "independent"}}
}
],
"spacing": 37
},
{
"width": 10, "height": 866,
"view": {"fill": "#cde6fa", "stroke": null},
"data": {"values": [{"a": 0}]},
"mark": {"type": "rule", "opacity": 0},
"encoding": {}
}
],
"spacing": 96
}
